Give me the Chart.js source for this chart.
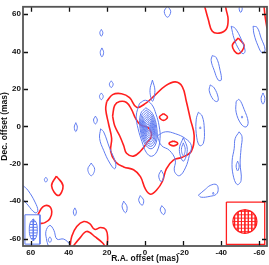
<!DOCTYPE html>
<html><head><meta charset="utf-8">
<script src="https://cdn.jsdelivr.net/npm/chart.js@4/dist/chart.umd.min.js"></script>
<style>html,body{margin:0;padding:0;background:#fff;overflow:hidden}canvas{display:block}</style>
</head><body>
<canvas id="c" width="269" height="265"></canvas>
<script>
// axis ticks (mas)
const xTicks=[60,40,20,0,-20,-40,-60];
const yTicks=[60,40,20,0,-20,-40,-60];
const xRange=[-64,64];
const yRange=[-64,64];

// ---- red contours (x = R.A. offset, y = Dec. offset, mas) ----
const redOuter=[[20.1,13.3],[17.0,17.0],[12.3,17.5],[8.1,15.4],[4.4,10.2],[-0.3,12.3],[-5.0,16.5],[-10.7,21.7],[-15.9,23.8],[-19.6,21.2],[-21.7,13.3],[-23.8,3.9],[-25.8,-5.0],[-24.3,-13.3],[-19.6,-16.5],[-14.9,-18.0],[-11.2,-22.7],[-9.1,-29.5],[-6.0,-34.2],[-2.9,-36.3],[-0.3,-33.7],[2.4,-26.9],[6.0,-23.2],[11.2,-21.7],[15.4,-19.1],[18.0,-13.3],[17.5,-6.5],[19.1,1.3],[20.6,9.1]];
const redInner=[[17.0,5.5],[15.9,11.2],[13.3,13.3],[9.7,12.8],[7.1,9.1],[5.0,4.4],[2.4,0.8],[-1.8,-0.8],[-3.4,-5.0],[-0.8,-9.1],[2.4,-13.3],[6.0,-15.9],[9.7,-14.4],[11.2,-10.2],[13.3,-5.0],[15.9,0.3]];
const redSpotA=[[-9.7,6.8],[-7.6,5],[-9.7,3.2],[-11.8,5]];
const redSpotB=[[-14.9,-7.8],[-12.6,-9.1],[-14.9,-10.4],[-17.2,-9.1]];
const redTopU=[[-31.1,65],[-33.2,57.2],[-35.3,50.9],[-38.9,49.9],[-42.6,52.0],[-43.6,57.2],[-42.6,62.4],[-42.1,65]];
const redNE=[[-48.9,47.3],[-45.8,43.1],[-48.9,38.9],[-52,43.1]];
const redCorner=[[-62.4,65],[-63,58.8],[-64,52.5]];
const redSW=[[46.5,-26.6],[49,-31.8],[45.5,-37],[43,-31.8]];
const redHook=[[56.2,-47.3],[53.6,-43.1],[50.4,-42.6],[48.9,-45.7],[49.9,-49.4],[52.5,-51.5],[55.1,-52.0]];
const redBottomOuter=[[39.4,-65],[38.4,-58.8],[35.8,-53.6],[32.1,-50.9],[29.0,-52.0],[26.4,-55.1],[23.3,-54.1],[20.6,-55.1],[19.6,-59.3],[20.1,-65]];
const redBottomInner=[[38.4,-65],[34.2,-59.8],[30.6,-56.2],[25.9,-59.3],[22.2,-62.4],[20.6,-65]];

// ---- blue contours ----
const coreOuter=[[2.9,12.3],[-0.3,14.0],[-3.6,11.6],[-5.8,6.5],[-7.4,0.3],[-7.9,-6.5],[-6.3,-13.3],[-3.4,-16.0],[-0.6,-13.8],[1.6,-8.1],[3.6,-1.3],[4.6,5.5]];
const core1=[[-0.48,10.0],[2.26,6.81],[2.6,-1.0],[0.38,-8.81],[-3.12,-12.0],[-5.86,-8.81],[-6.2,-1.0],[-3.98,6.81]];
const core2=[[-0.64,8.7],[1.8,5.89],[2.1,-1.0],[0.14,-7.89],[-2.96,-10.7],[-5.4,-7.89],[-5.7,-1.0],[-3.74,5.89]];
const core3=[[-0.78,7.5],[1.33,5.04],[1.6,-1.0],[-0.11,-7.04],[-2.82,-9.5],[-4.93,-7.04],[-5.2,-1.0],[-3.49,5.04]];
const core4=[[-0.92,6.3],[0.95,4.18],[1.2,-1.0],[-0.29,-6.18],[-2.68,-8.3],[-4.55,-6.18],[-4.8,-1.0],[-3.31,4.18]];
const core5=[[-1.06,5.2],[0.58,3.4],[0.8,-1.0],[-0.48,-5.4],[-2.54,-7.2],[-4.18,-5.4],[-4.4,-1.0],[-3.12,3.4]];
const core6=[[-1.19,4.1],[0.19,2.62],[0.4,-1.0],[-0.67,-4.62],[-2.41,-6.1],[-3.79,-4.62],[-4.0,-1.0],[-2.93,2.62]];
const core7=[[-1.31,3.1],[-0.17,1.91],[0.0,-1.0],[-0.87,-3.91],[-2.29,-5.1],[-3.43,-3.91],[-3.6,-1.0],[-2.73,1.91]];
const core8=[[-1.43,2.1],[-0.55,1.2],[-0.4,-1.0],[-1.07,-3.2],[-2.17,-4.1],[-3.05,-3.2],[-3.2,-1.0],[-2.53,1.2]];
const core9=[[-1.54,1.2],[-0.9,0.56],[-0.8,-1.0],[-1.28,-2.56],[-2.06,-3.2],[-2.7,-2.56],[-2.8,-1.0],[-2.32,0.56]];
const core10=[[-1.64,0.3],[-1.26,-0.08],[-1.2,-1.0],[-1.48,-1.92],[-1.96,-2.3],[-2.34,-1.92],[-2.4,-1.0],[-2.12,-0.08]];
const blueA=[[22.9,51.9],[23.7,50.1],[22.9,48.3],[22.1,50.1]];
const blueB=[[22.6,42],[23.5,39.6],[22.6,37.2],[21.7,39.6]];
const blueC=[[17.7,24.4],[18.7,22.6],[17.7,20.8],[16.7,22.6]];
const blueD=[[22.9,17.9],[23.9,16.1],[22.9,14.3],[21.9,16.1]];
const blueE=[[26,5.5],[27,3.4],[26,1.3],[25,3.4]];
const blueF=[[36.3,2],[37.1,-0.4],[36.3,-2.8],[35.5,-0.4]];
const blueG=[[-3.9,24.8],[-2.6,19.1],[-3.9,13.4],[-5.2,19.1]];
const blueH=[[-11.8,64.4],[-10.1,61.4],[-11.8,58.4],[-13.5,61.4]];
const blueI=[[-50.2,65],[-49.4,63],[-50.2,61],[-51,63]];
const blueJ=[[-45.2,53.6],[-47.3,52.5],[-50.4,46.8],[-52.5,40.5],[-51.5,38.9],[-49.4,41.0],[-46.8,46.8]];
const blueK=[[-56.7,53.6],[-58.8,53.0],[-60.9,47.3],[-63,41.0],[-61.4,39.4],[-59.3,43.1],[-57.2,49.4]];
const blueL=[[-35.3,37.9],[-37.4,36.8],[-39.4,30.0],[-40,24.8],[-38.4,24.8],[-36.3,30.0],[-34.7,35.3]];
const blueM=[[-34.2,22.2],[-36.3,20.6],[-38.4,15.4],[-37.9,13.3],[-35.8,14.4],[-33.7,19.1]];
const blueN=[[-28.0,7.6],[-30.0,5.5],[-31.1,-1.3],[-30.6,-9.1],[-28.5,-10.2],[-26.9,-3.9],[-26.9,3.9]];
const blueNdot=[[-29,-0.2],[-28.7,-0.8],[-29,-1.4],[-29.3,-0.8]];
const blueO=[[-47.8,13.3],[-49.4,14.4],[-52.0,9.1],[-54.1,2.4],[-53.0,-0.3],[-50.4,1.3],[-47.8,7.6]];
const blueOdot=[[-50.9,5.6],[-50.6,5],[-50.9,4.4],[-51.2,5]];
const blueP=[[-61.9,17.9],[-60.9,14.9],[-61.9,11.9],[-62.9,14.9]];
const blueQ=[[-49.4,-2.9],[-50.9,-5.5],[-50.4,-11.8],[-49.9,-19.6],[-50.4,-29.0],[-48.3,-31.1],[-46.2,-25.9],[-45.7,-18.5],[-46.8,-11.8],[-47.3,-6.5]];
const blueQin=[[-48.6,-18.6],[-47.8,-21.2],[-48.6,-23.8],[-49.4,-21.2]];
const blueR=[[-28.0,-36.8],[-31.6,-33.7],[-34.2,-31.6],[-37.4,-31.1],[-38.4,-33.7],[-37.4,-36.3],[-34.2,-37.4],[-29.5,-37.9]];
const blueRdot=[[-35.8,-35.2],[-35.5,-35.8],[-35.8,-36.4],[-36.1,-35.8]];
const blueS=[[-6.5,-5.0],[-10.7,-2.9],[-15.9,-3.9],[-21.2,-6.5],[-24.3,-10.2],[-23.3,-15.4],[-21.2,-22.2],[-18.0,-26.4],[-15.4,-23.8],[-15.9,-18.0],[-12.8,-12.8],[-8.6,-10.2]];
const blueT=[[-20.1,-6],[-18,-12.3],[-20.1,-18.6],[-22.2,-12.3]];
const blueTin=[[-20.1,-8.8],[-19.1,-12.3],[-20.1,-15.8],[-21.1,-12.3]];
const blueU=[[-8.5,-23.4],[-7.2,-26.5],[-8.5,-29.6],[-9.8,-26.5]];
const blueV=[[11.2,-40],[12,-43.1],[10.2,-46.2],[9.4,-43.1]];
const blueW=[[2.5,-37],[3.3,-39.6],[1.5,-42.2],[0.7,-39.6]];
const blueX=[[-8.8,-42.4],[-8,-44.8],[-9.8,-47.2],[-10.6,-44.8]];
const blueY=[[28.2,-19.6],[30,-23],[28.2,-26.4],[26.4,-23]];
const blueZ=[[52,-27.2],[52.8,-28.5],[52,-29.8],[51.2,-28.5]];
const blueAA=[[36.8,-43.6],[37.6,-45.7],[36.8,-47.8],[36,-45.7]];
const blueAB=[[64,-31.6],[61.4,-34.2],[57.7,-40.5],[56.2,-45.2],[57.7,-46.2],[61.4,-42.1],[64,-38.4]];
const blueAC=[[51.5,-61.4],[52,-56.2],[49.9,-53.0],[47.8,-55.6],[46.2,-60.3],[42.6,-60.3],[39.4,-63.5],[41.5,-64.5],[46.8,-64.5],[50.4,-64]];
const blueACin=[[49.9,-59.1],[50.7,-60.6],[49.9,-62.1],[49.1,-60.6]];
const blueAD=[[23.3,-1.3],[21.7,-2.9],[18.5,-11.8],[15.4,-19.6],[15.9,-22.7],[18.5,-19.6],[21.7,-12.8],[23.8,-6.5]];

// ---- restoring beams ----
const blueBeamBox=[[63,-47.3],[55.1,-47.3],[55.1,-63],[63,-63],[63,-47.3]];
const blueBeam=[[58.6,-49.6],[60.1,-51.3],[60.7,-55.3],[60.1,-59.3],[58.6,-61],[57.1,-59.3],[56.5,-55.3],[57.1,-51.3]];
const blueBeamHatch=[[[57.2,-51],[60,-51]],[[56.8,-52.5],[60.4,-52.5]],[[56.6,-54],[60.6,-54]],[[56.5,-55.5],[60.7,-55.5]],[[56.6,-57],[60.6,-57]],[[56.9,-58.5],[60.3,-58.5]],[[57.4,-60],[59.8,-60]],[[58.6,-49.6],[58.6,-61]]];
const redBeamBox=[[-42.7,-40.5],[-62.8,-40.5],[-62.8,-63.1],[-42.7,-63.1],[-42.7,-40.5]];
const redBeam=[[-52.4,-44.6],[-55.55,-45.44],[-57.86,-47.75],[-58.7,-50.9],[-57.86,-54.05],[-55.55,-56.36],[-52.4,-57.2],[-49.25,-56.36],[-46.94,-54.05],[-46.1,-50.9],[-46.94,-47.75],[-49.25,-45.44]];
const redBeamHatch=[[[-49.2,-45.5],[-55.6,-45.5]],[[-47.2,-47.3],[-57.6,-47.3]],[[-46.4,-49.1],[-58.4,-49.1]],[[-46.1,-50.9],[-58.7,-50.9]],[[-46.4,-52.7],[-58.4,-52.7]],[[-47.2,-54.5],[-57.6,-54.5]],[[-49.2,-56.3],[-55.6,-56.3]],
 [[-47.0,-47.7],[-47.0,-54.1]],[[-48.8,-45.7],[-48.8,-56.1]],[[-50.6,-44.9],[-50.6,-56.9]],[[-52.4,-44.6],[-52.4,-57.2]],[[-54.2,-44.9],[-54.2,-56.9]],[[-56.0,-45.7],[-56.0,-56.1]],[[-57.8,-47.7],[-57.8,-54.1]]];

const RED='#ff1f1f', BLUE='#5f7bf0';
const pts=a=>a.map(p=>({x:p[0],y:p[1]}));
const loop=a=>pts(a.concat([a[0]]));
const segs=s=>{const o=[];s.forEach(g=>{o.push({x:g[0][0],y:g[0][1]},{x:g[1][0],y:g[1][1]},{x:g[1][0],y:null});});return o;};
const ds=(data,color,w,tension,order)=>({data,borderColor:color,borderWidth:w,tension,pointRadius:0,showLine:true,fill:false,order,spanGaps:false});

const redClosed=[redOuter,redInner,redSpotA,redSpotB,redNE,redSW];
const redOpen=[redTopU,redCorner,redHook,redBottomOuter,redBottomInner];
const blueClosed=[coreOuter,core1,core2,core3,core4,core5,core6,core7,core8,core9,core10,blueA,blueB,blueC,blueD,blueE,blueF,blueG,blueH,blueI,blueJ,blueK,blueL,blueM,blueN,blueNdot,blueO,blueOdot,blueP,blueQ,blueQin,blueR,blueRdot,blueS,blueT,blueTin,blueU,blueV,blueW,blueX,blueY,blueZ,blueAA,blueAB,blueAC,blueACin,blueAD];

const datasets=[];
redClosed.forEach(c=>datasets.push(ds(loop(c),RED,1.6,0.4,2)));
redOpen.forEach(c=>datasets.push(ds(pts(c),RED,1.6,0.4,2)));
blueClosed.forEach(c=>datasets.push(ds(loop(c),BLUE,1,0.4,1)));
datasets.push(ds(pts(blueBeamBox),BLUE,1,0,1));
datasets.push(ds(loop(blueBeam),BLUE,1,0.4,1));
datasets.push(ds(segs(blueBeamHatch),BLUE,1,0,1));
datasets.push(ds(pts(redBeamBox),RED,1.3,0,1));
datasets.push(ds(loop(redBeam),RED,1.3,0.4,1));
datasets.push(ds(segs(redBeamHatch),RED,0.9,0,1));

const frame={id:'frame',afterDatasetsDraw(chart){
 const {ctx,chartArea:a,scales:{x,y}}=chart;
 ctx.save();
 ctx.strokeStyle='#111';ctx.lineWidth=1.3;
 xTicks.forEach(v=>{const p=Math.round(x.getPixelForValue(v))+0.5;ctx.beginPath();ctx.moveTo(p,a.bottom);ctx.lineTo(p,a.bottom-5);ctx.moveTo(p,a.top);ctx.lineTo(p,a.top+5);ctx.stroke();});
 yTicks.forEach(v=>{const p=Math.round(y.getPixelForValue(v))+0.5;ctx.beginPath();ctx.moveTo(a.left,p);ctx.lineTo(a.left+5,p);ctx.moveTo(a.right,p);ctx.lineTo(a.right-5,p);ctx.stroke();});
 ctx.strokeStyle='#555';ctx.lineWidth=1.8;
 ctx.strokeRect(a.left,a.top,a.right-a.left,a.bottom-a.top);
 ctx.restore();}};

const font={family:'"Liberation Sans", Arial, sans-serif',size:8,weight:'bold'};
new Chart(document.getElementById('c'),{
 type:'scatter',
 data:{datasets},
 options:{responsive:false,animation:false,devicePixelRatio:1,
  layout:{padding:{top:1,right:2,left:0,bottom:0}},
  plugins:{legend:{display:false},tooltip:{enabled:false}},
  scales:{
   x:{type:'linear',min:xRange[0],max:xRange[1],reverse:true,
      grid:{display:false,drawTicks:false},border:{display:false},
      ticks:{stepSize:20,includeBounds:false,color:'#111',font,padding:2,maxRotation:0,autoSkip:false},
      title:{display:true,text:'R.A. offset (mas)',color:'#111',font:{...font,size:8.5},padding:{top:0,bottom:1}},
      afterFit(s){s.height=19;}},
   y:{type:'linear',min:yRange[0],max:yRange[1],
      grid:{display:false,drawTicks:false},border:{display:false},
      ticks:{stepSize:20,includeBounds:false,color:'#111',font,padding:2,autoSkip:false},
      title:{display:true,text:'Dec. offset (mas)',color:'#111',font:{...font,size:8.5},padding:{top:0,bottom:0}},
      afterFit(s){s.width=23;}}
  }},
 plugins:[frame]
});
</script>
</body></html>
